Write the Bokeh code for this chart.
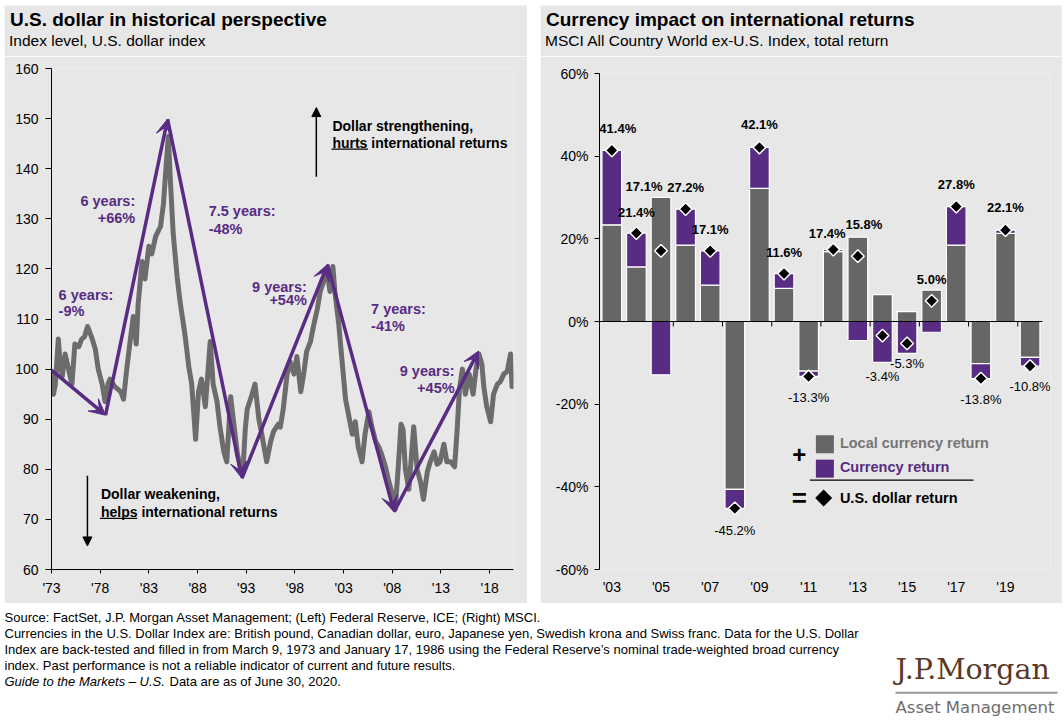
import numpy as np
from bokeh.plotting import figure
from bokeh.models import (Range1d, FixedTicker, ColumnDataSource, Arrow, VeeHead,
                          NormalHead, LabelSet, Spacer)
from bokeh.layouts import column, row
from bokeh.core.properties import value
from bokeh.embed import file_html
from bokeh.resources import INLINE

FONT = "Liberation Sans"
BG = "#e7e7e7"
GRAY = "#666666"
PURPLE = "#582c83"
SERIES = "#6c6c6c"

# ---------------- Left chart data: U.S. dollar index ----------------
dxy_years = [1973.0, 1973.2, 1973.4, 1973.7, 1973.9, 1974.1, 1974.4, 1974.75, 1975.1, 1975.4,
             1975.8, 1976.1, 1976.4, 1976.7, 1977.1, 1977.5, 1977.8, 1978.2, 1978.5, 1978.8,
             1979.0, 1979.5, 1980.1, 1980.4, 1980.7, 1981.1, 1981.4, 1981.7, 1981.9, 1982.3,
             1982.6, 1983.0, 1983.3, 1983.7, 1984.2, 1984.5, 1984.75, 1985.0, 1985.2, 1985.5,
             1985.9, 1986.2, 1986.7, 1987.1, 1987.4, 1987.8, 1988.1, 1988.4, 1988.8, 1989.3,
             1989.6, 1990.0, 1990.3, 1990.7, 1991.0, 1991.4, 1991.7, 1992.1, 1992.5, 1992.7,
             1992.9, 1993.1, 1993.6, 1993.9, 1994.3, 1994.6, 1995.1, 1995.5, 1995.8, 1996.3,
             1996.5, 1996.8, 1997.2, 1997.5, 1997.9, 1998.2, 1998.6, 1998.9, 1999.2, 1999.6,
             1999.9, 2000.3, 2000.6, 2000.95, 2001.3, 2001.6, 2001.9, 2002.1, 2002.5, 2002.8,
             2003.2, 2003.5, 2003.9, 2004.2, 2004.5, 2004.9, 2005.2, 2005.6, 2005.9, 2006.3,
             2006.6, 2006.9, 2007.3, 2007.6, 2008.0, 2008.3, 2008.6, 2008.9, 2009.1, 2009.35,
             2009.7, 2010.2, 2010.55, 2010.9, 2011.2, 2011.6, 2011.9, 2012.3, 2012.6, 2012.9,
             2013.3, 2013.6, 2014.0, 2014.4, 2014.65, 2014.9, 2015.2, 2015.5, 2015.9, 2016.3,
             2016.6, 2016.9, 2017.2, 2017.4, 2017.7, 2018.1, 2018.4, 2018.8, 2019.1, 2019.45,
             2019.8, 2020.15, 2020.3, 2020.45]
dxy_values = [99.5, 95.0, 97.0, 106.0, 101.0, 98.5, 103.0, 100.0, 97.0, 105.0,
              104.5, 106.0, 106.5, 108.5, 106.5, 104.0, 100.0, 97.0, 93.5, 97.0,
              98.0, 96.5, 95.5, 94.0, 99.5, 106.0, 110.5, 105.0, 113.0, 121.5,
              118.0, 124.5, 123.0, 126.5, 128.5, 133.0, 140.0, 146.5, 138.0, 127.0,
              118.5, 113.5, 107.0, 100.5, 97.0, 86.0, 95.5, 98.0, 92.5, 105.5,
              97.0, 93.5, 88.5, 83.5, 81.5, 94.5, 89.5, 83.0, 79.5, 81.0,
              88.0, 92.0, 95.0, 97.0, 90.0, 87.0, 81.5, 85.5, 87.5, 89.0,
              88.4, 92.0, 99.0, 101.5, 99.0, 102.5, 95.5, 99.0, 103.5, 105.5,
              108.5, 112.0, 115.5, 117.5, 119.5, 115.5, 120.5, 115.5, 109.0, 102.5,
              94.0, 91.0, 87.0, 89.5, 84.5, 81.5, 87.0, 91.5, 88.5, 85.5,
              84.5, 83.0, 80.5, 78.0, 75.0, 72.0, 80.0, 89.0, 88.0, 80.0,
              76.0, 88.5, 80.0, 77.5, 74.0, 79.5, 81.5, 83.5, 81.0, 81.5,
              85.0, 81.5, 81.5, 80.5, 87.5, 96.0, 100.0, 95.0, 99.0, 95.0,
              100.0, 103.0, 101.0, 96.5, 92.5, 89.5, 95.0, 97.0, 97.5, 99.0,
              99.5, 103.0, 96.5, 97.5]

# turning points of the dollar cycles (purple arrows)
turn_years = [1973.0, 1978.55, 1984.92, 1992.56, 2001.35, 2008.18, 2016.86]
turn_values = [99.8, 90.8, 149.9, 78.2, 120.9, 71.5, 103.6]
cycle_top = ["6 years:", "6 years:", "7.5 years:", "9 years:", "7 years:", "9 years:"]
cycle_bottom = ["-9%", "+66%", "-48%", "+54%", "-41%", "+45%"]

left_yticks = [60, 70, 80, 90, 100, 110, 120, 130, 140, 150, 160]
left_xticks = [1973, 1978, 1983, 1988, 1993, 1998, 2003, 2008, 2013, 2018]

# ---------------- Right chart data: currency impact ----------------
years = list(range(2003, 2021))
local_ret = [23.4, 13.2, 30.0, 18.5, 8.8, -40.6, 32.2, 8.0, -12.0, 16.9,
             20.4, 6.5, 2.4, 7.6, 18.5, -10.2, 21.3, -8.7]
currency_ret = [18.0, 8.2, -12.9, 8.7, 8.3, -4.6, 9.9, 3.6, -1.3, 0.5,
                -4.6, -9.9, -7.7, -2.6, 9.3, -3.6, 0.8, -2.1]
usd_ret = [41.4, 21.4, 17.1, 27.2, 17.1, -45.2, 42.1, 11.6, -13.3, 17.4,
           15.8, -3.4, -5.3, 5.0, 27.8, -13.8, 22.1, -10.8]
right_yticks = [-60, -40, -20, 0, 20, 40, 60]
right_xticks = [2003, 2005, 2007, 2009, 2011, 2013, 2015, 2017, 2019]

# label nudges (pixels) for the U.S. dollar return labels
lab_dx = [6, 0, -17, 0, 0, 0, 0, 0, 0, -6, 6, 0, 0, 0, 0, 0, 0, 0]
lab_dy = [22, 21, 64, 21.5, 21.5, -22, 23, 21, -21, 16, 32, -41, -20, 21, 22, -21, 22.5, -20]


def no_align(p):
    try:
        p.frame_align = False
    except Exception:
        pass


def base_fig(**kw):
    bg = kw.pop("bg", BG)
    p = figure(output_backend="svg", toolbar_location=None, title=None,
               background_fill_color=bg, border_fill_color=bg, **kw)
    p.outline_line_color = None
    p.grid.visible = False
    no_align(p)
    return p


def style_axis(ax, tick_out, standoff):
    ax.major_label_text_font = FONT
    ax.major_label_text_font_size = "14px"
    ax.major_label_text_color = "black"
    ax.axis_line_color = "black"
    ax.axis_line_width = 1
    ax.major_tick_line_color = "black"
    ax.minor_tick_line_color = None
    ax.major_tick_in = 0
    ax.major_tick_out = tick_out
    ax.major_label_standoff = standoff


def txt(p, x, y, s, size, color="black", style="normal", align="left", baseline="middle", font=FONT):
    p.text(x=x, y=y, text=s, text_font=value(font), text_font_size=size, text_font_style=style,
           text_color=color, text_align=align, text_baseline=baseline)


def title_fig(x0, width, title, subtitle):
    f = base_fig(width=width, height=51, x_range=Range1d(x0, x0 + width), y_range=Range1d(56, 5),
                 min_border=0)
    f.xaxis.visible = False
    f.yaxis.visible = False
    txt(f, [x0 + 5.5], [18.8], [title], "19px", style="bold")
    txt(f, [x0 + 4.5], [40.3], [subtitle], "15.5px")
    return f


# ---------------- Left chart ----------------
pL = base_fig(width=523, height=547, x_range=Range1d(1973, 2020.45), y_range=Range1d(60, 160),
              min_border_left=47, min_border_right=14, min_border_top=12, min_border_bottom=34)
style_axis(pL.yaxis[0], 6, 7)
style_axis(pL.xaxis[0], 4, 6)
pL.yaxis.ticker = FixedTicker(ticks=left_yticks)
pL.xaxis.ticker = FixedTicker(ticks=left_xticks)
pL.xaxis.major_label_overrides = {t: "'" + str(t)[2:] for t in left_xticks}

pL.line(dxy_years, dxy_values, line_width=5, line_color=SERIES, line_join="round")

arr_src = ColumnDataSource(dict(x0=turn_years[:-1], y0=turn_values[:-1],
                                x1=turn_years[1:], y1=turn_values[1:]))
pL.add_layout(Arrow(end=VeeHead(size=16, fill_color=PURPLE, line_color=PURPLE, line_width=1),
                    source=arr_src, x_start="x0", y_start="y0", x_end="x1", y_end="y1",
                    line_color=PURPLE, line_width=3.5))

# cycle annotations
ann_x = [1973.73, 1981.6, 1989.14, 1999.23, 2005.82, 2014.4]
ann_y1 = [114.75, 133.6, 131.6, 116.3, 111.9, 99.6]
ann_y2 = [111.6, 130.2, 128.0, 113.7, 108.7, 96.3]
ann_al = ["left", "right", "left", "right", "left", "right"]
for x, y1, y2, a, t1, t2 in zip(ann_x, ann_y1, ann_y2, ann_al, cycle_top, cycle_bottom):
    txt(pL, [x], [y1], [t1], "14.5px", color=PURPLE, style="bold", align=a)
    txt(pL, [x], [y2], [t2], "14.5px", color=PURPLE, style="bold", align=a)

# direction notes
pL.add_layout(Arrow(end=NormalHead(size=9, fill_color="black", line_color="black"),
                    x_start=2000.2, y_start=138.4, x_end=2000.2, y_end=152.2,
                    line_color="black", line_width=1.5))
pL.add_layout(Arrow(end=NormalHead(size=9, fill_color="black", line_color="black"),
                    x_start=1976.69, y_start=78.7, x_end=1976.69, y_end=64.7,
                    line_color="black", line_width=1.5))
txt(pL, [2001.85], [148.5], ["Dollar strengthening,"], "14px", style="bold")
txt(pL, [2001.85], [145.2], ["hurts international returns"], "14px", style="bold")
pL.segment(x0=[2001.75], y0=[143.9], x1=[2005.5], y1=[143.9], line_color="black", line_width=1.2)
txt(pL, [1978.08], [75.0], ["Dollar weakening,"], "14px", style="bold")
txt(pL, [1978.08], [71.45], ["helps international returns"], "14px", style="bold")
pL.segment(x0=[1977.97], y0=[70.2], x1=[1981.8], y1=[70.2], line_color="black", line_width=1.2)

# ---------------- Right chart ----------------
x_lo = years[0] - 0.5
x_hi = years[-1] + 0.5
pR = base_fig(width=522, height=547, x_range=Range1d(x_lo, x_hi + 0.33), y_range=Range1d(-60, 60),
              min_border_left=59, min_border_right=12, min_border_top=17, min_border_bottom=34)
style_axis(pR.yaxis[0], 5, 6)
style_axis(pR.xaxis[0], 0, 9)
pR.yaxis.ticker = FixedTicker(ticks=right_yticks)
pR.yaxis.major_label_overrides = {t: f"{t}%" for t in right_yticks}
pR.xaxis.ticker = FixedTicker(ticks=right_xticks)
pR.xaxis.major_label_overrides = {t: "'" + str(t)[2:] for t in right_xticks}
pR.xaxis.axis_line_color = None
pR.xaxis.major_tick_line_color = None

loc = np.array(local_ret)
cur = np.array(currency_ret)
same = np.sign(loc) == np.sign(cur)
cur_bottom = np.where(same, loc, 0.0)
cur_top = np.where(same, loc + cur, cur)

pR.vbar(x=years, width=0.8, bottom=0, top=local_ret, fill_color=GRAY, line_color="white", line_width=1.2)
pR.vbar(x=years, width=0.8, bottom=cur_bottom, top=cur_top, fill_color=PURPLE, line_color="white",
        line_width=1.2)
# zero line with tick marks every two years
pR.segment(x0=[x_lo], y0=[0], x1=[x_hi], y1=[0], line_color="black", line_width=1)
bounds = [y + 1.5 for y in years[1::2]]
pR.segment(x0=bounds, y0=[0] * len(bounds), x1=bounds, y1=[-1.2] * len(bounds), line_color="black",
           line_width=1)
pR.scatter(years, usd_ret, marker="square", angle=np.pi / 4, size=9, fill_color="black",
           line_color="white", line_width=1.5)

lab = dict(x=years, y=usd_ret, t=[f"{v:.1f}%" for v in usd_ret], dx=lab_dx, dy=lab_dy)
pos_idx = [i for i, v in enumerate(usd_ret) if v >= 0]
neg_idx = [i for i, v in enumerate(usd_ret) if v < 0]
for idx, style in ((pos_idx, "bold"), (neg_idx, "normal")):
    src = ColumnDataSource({k: [lab[k][i] for i in idx] for k in lab})
    pR.add_layout(LabelSet(source=src, x="x", y="y", text="t", x_offset="dx", y_offset="dy",
                           text_font=value(FONT), text_font_size="13px", text_font_style=style,
                           text_align="center", text_baseline="middle", text_color="black"))

# legend
pR.scatter([2011.66], [-29.7], marker="square", size=18, fill_color=GRAY, line_color=None)
pR.scatter([2011.66], [-35.6], marker="square", size=18, fill_color=PURPLE, line_color=None)
txt(pR, [2010.62], [-32.1], ["+"], "24px", style="bold", align="center")
pR.segment(x0=[2011.05], y0=[-38.4], x1=[2017.7], y1=[-38.4], line_color="black", line_width=1.2)
txt(pR, [2010.62], [-42.7], ["="], "26px", style="bold", align="center")
pR.scatter([2011.61], [-42.7], marker="square", angle=np.pi / 4, size=12, fill_color="black",
           line_color=None)
txt(pR, [2012.27], [-29.4], ["Local currency return"], "14.5px", color="#767676", style="bold")
txt(pR, [2012.27], [-35.3], ["Currency return"], "14.5px", color=PURPLE, style="bold")
txt(pR, [2012.27], [-42.7], ["U.S. dollar return"], "14.5px", style="bold")

# ---------------- Titles ----------------
tL = title_fig(4, 523, "U.S. dollar in historical perspective", "Index level, U.S. dollar index")
tR = title_fig(540, 522, "Currency impact on international returns",
               "MSCI All Country World ex-U.S. Index, total return")

# ---------------- Footer ----------------
pf = base_fig(width=1062, height=115, x_range=Range1d(0, 1062), y_range=Range1d(718, 603),
              min_border=0, bg="white")
pf.xaxis.visible = False
pf.yaxis.visible = False
foot_lines = [
    "Source: FactSet, J.P. Morgan Asset Management; (Left) Federal Reserve, ICE; (Right) MSCI.",
    "Currencies in the U.S. Dollar Index are: British pound, Canadian dollar, euro, Japanese yen, Swedish krona and Swiss franc. Data for the U.S. Dollar",
    "Index are back-tested and filled in from March 9, 1973 and January 17, 1986 using the Federal Reserve\u2019s nominal trade-weighted broad currency",
    "index. Past performance is not a reliable indicator of current and future results.",
]
foot_mid = [616.6, 633.0, 649.2, 665.3]
txt(pf, [4] * 4, foot_mid, foot_lines, "13px")
pf.text(x=[4], y=[681.0], text=["Guide to the Markets \u2013 U.S."], text_font=value(FONT),
        text_font_size="13px", text_font_style="italic", text_baseline="middle")
txt(pf, [169], [681.0], ["Data are as of June 30, 2020."], "13px")
# logo
txt(pf, [895], [668.7], ["J.P.Morgan"], "28.5px", color="#5a3825", font="DejaVu Serif")
pf.segment(x0=[895], y0=[692.3], x1=[1057], y1=[692.3], line_color="#9a9a9a", line_width=2)
txt(pf, [895], [706.7], ["Asset Management"], "16.5px", color="#6e6e6e", font="DejaVu Sans")

top = row(Spacer(width=4, height=10), column(tL, pL), Spacer(width=13, height=10), column(tR, pR))
layout = column(Spacer(width=10, height=5), top, pf)

with open("out.html", "w") as fh:
    fh.write(file_html(layout, INLINE))
